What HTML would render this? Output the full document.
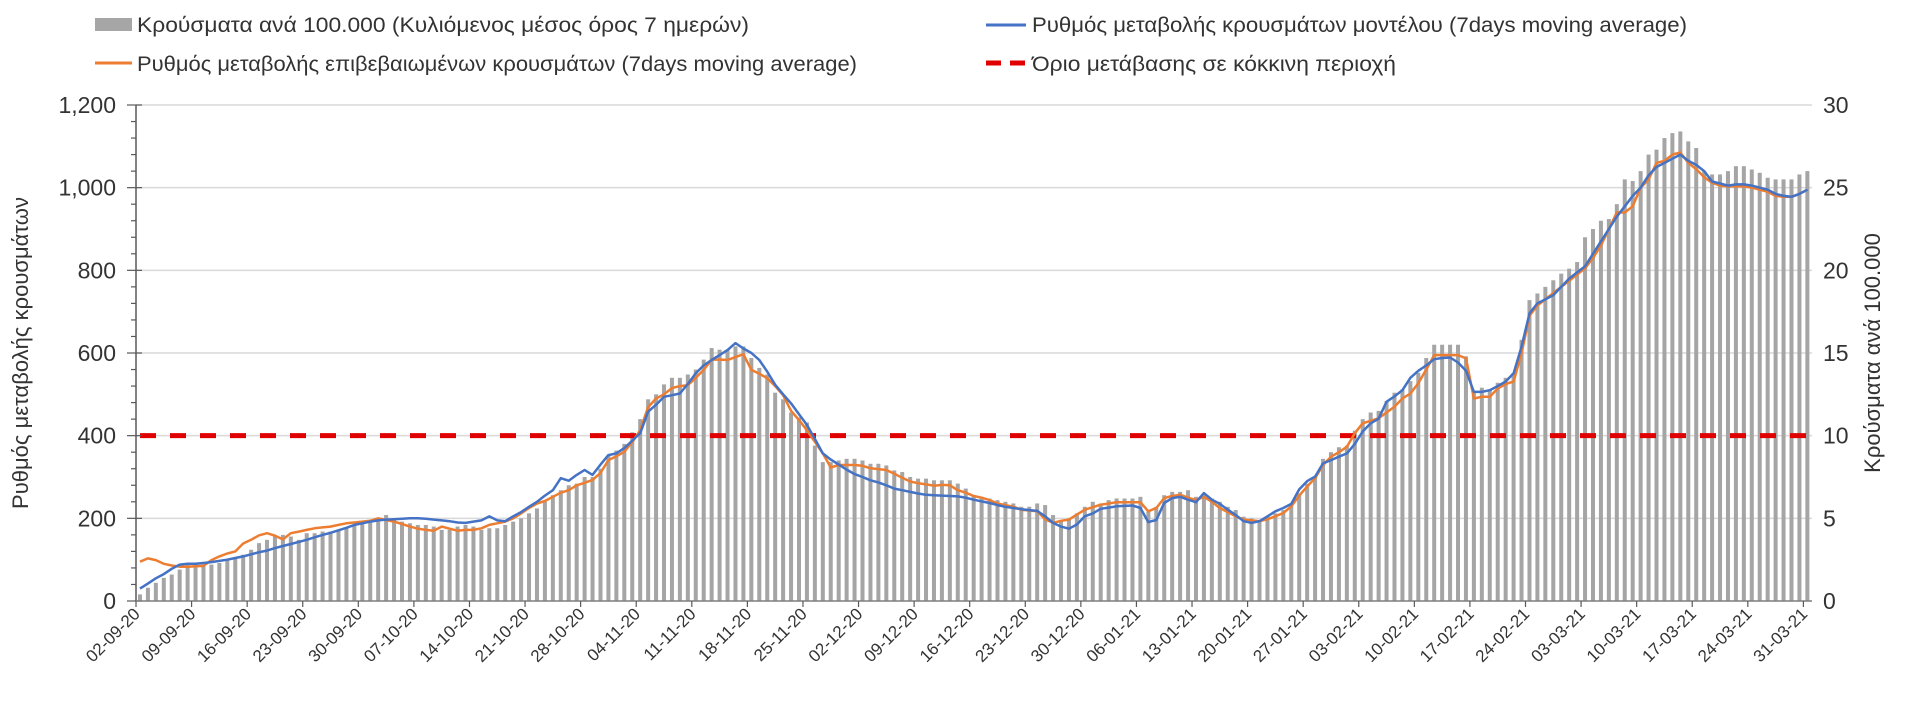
<!DOCTYPE html>
<html><head><meta charset="utf-8">
<style>
html,body{margin:0;padding:0;background:#fff;}
svg{display:block;font-family:"Liberation Sans","DejaVu Sans",sans-serif;}
</style></head>
<body>
<svg id="chart" width="1920" height="711" viewBox="0 0 1920 711" xmlns="http://www.w3.org/2000/svg">
  <rect x="0" y="0" width="1920" height="711" fill="#fff"/>
  <g id="grid"></g>
  <g id="bars"></g>
  <g id="lines"></g>
  <g id="axes"></g>
  <g id="legend">
    <g>
      <rect x="95" y="18" width="37" height="13" fill="#a6a6a6"/>
      <text x="137" y="32" font-size="21" fill="#333" textLength="612" lengthAdjust="spacingAndGlyphs">Κρούσματα ανά 100.000 (Κυλιόμενος μέσος όρος 7 ημερών)</text>
    </g>
    <g>
      <line x1="95" y1="63" x2="132" y2="63" stroke="#ed7d31" stroke-width="3"/>
      <text x="137" y="71" font-size="21" fill="#333" textLength="720" lengthAdjust="spacingAndGlyphs">Ρυθμός μεταβολής επιβεβαιωμένων κρουσμάτων (7days moving average)</text>
    </g>
    <g>
      <line x1="986" y1="25" x2="1026" y2="25" stroke="#4472c4" stroke-width="3"/>
      <text x="1032" y="32" font-size="21" fill="#333" textLength="655" lengthAdjust="spacingAndGlyphs">Ρυθμός μεταβολής κρουσμάτων μοντέλου (7days moving average)</text>
    </g>
    <g>
      <line x1="986" y1="63" x2="1028" y2="63" stroke="#e00000" stroke-width="5" stroke-dasharray="15,9"/>
      <text x="1032" y="71" font-size="21" fill="#333" textLength="364" lengthAdjust="spacingAndGlyphs">Όριο μετάβασης σε κόκκινη περιοχή</text>
    </g>
  </g>
  <text x="0" y="0" transform="translate(28,353) rotate(-90)" text-anchor="middle" font-size="22" fill="#333">Ρυθμός μεταβολής κρουσμάτων</text>
  <text x="0" y="0" transform="translate(1880,353) rotate(-90)" text-anchor="middle" font-size="22" fill="#333">Κρούσματα ανά 100.000</text>
</svg>
<script>
// ---- data ----
const startDate = [2020, 8, 2];
const leftTicks = [0, 200, 400, 600, 800, 1000, 1200];
const leftTickLabels = ["0", "200", "400", "600", "800", "1,000", "1,200"];
const rightTicks = [0, 5, 10, 15, 20, 25, 30];
const threshold = [400];
const casesPer100k = [
0.4,0.8,1.1,1.4,1.6,1.9,2.2, 2.3,2.2,2.2,2.3,2.5,2.6,2.8,
3.1,3.5,3.7,4.0,4.0,3.9,3.7, 4.1,4.1,4.2,4.2,4.3,4.4,4.6,
4.7,4.9,5.0,5.2,4.9,4.8,4.7, 4.6,4.6,4.5,4.3,4.3,4.5,4.6,
4.5,4.3,4.4,4.4,4.6,4.8,5.0, 5.3,5.6,
6.0,6.4,6.7,7.0,7.1,7.5,7.5,8.0,8.8,9.1,9.5,10.2,
11.0,12.2,12.5,13.1,13.5,13.5,13.7,14.0,14.6,
15.3,15.2,15.2,15.4,15.4,14.7,14.1,13.7,12.6,
12.2,11.4,11.1,10.8,9.4,8.4,8.4,8.5,8.6,
8.6,8.5,8.3,8.3,8.2,7.9,7.8,7.5,7.4,7.4,
7.3,7.3,7.3,7.1,6.8,6.4,6.3,6.2,6.1,6.0,5.9,
5.7,5.7,5.9,5.8,5.2,4.8,5.0,5.3,5.7,
6.0,5.9,6.1,6.2,6.2,6.2,6.3,5.4,5.7,6.4,
6.6,6.6,6.7,6.3,6.4,6.2,6.0,5.7,5.5,5.1,
5.0,4.9,5.1,5.3,5.5,5.8,6.5,7.1,7.5,8.6,
9.0,9.3,9.4,10.3,11.0,11.4,11.5,12.1,12.6,12.8,
13.3,13.8,14.7,15.5,15.5,15.5,15.5,14.8,
12.7,12.9,12.8,13.2,13.5,13.8,15.8,18.2,
18.6,19.0,19.4,19.8,20.1,20.5,22.0,22.5,23.0,23.1,
24.0,25.5,25.4,26.0,27.0,27.3,28.0,28.3,28.4,
27.8,27.4,26.0,25.8,25.8,26.0,26.3,26.3,26.1,25.9,
25.6,25.5,25.5,25.5,25.8,26.0
];
const modelRate = [
30,42,55,65,78,88,90, 90,92,94,97,100,104,108,
113,118,122,128,133,138,143, 148,154,160,165,171,177,184,
188,192,195,197,198,199,200, 200,199,197,195,193,190,189,
192,195,205,195,193,205,215, 228,240,255,268,297,291,305,
317,305,330,353,357,370,388, 406,458,475,494,498,502,525,
551,570,583,595,607,624,611, 600,583,555,523,500,478,452,
426,392,357,342,330,318,307, 300,292,287,280,272,268,264,
260,257,256,255,254,253,250, 245,241,237,232,228,225,222,
220,218,205,189,180,175,185, 205,212,223,226,229,230,231,
225,191,196,237,249,252,245, 239,261,245,235,221,208,193,
189,193,205,217,225,235,270, 290,301,333,341,349,357,380,
410,430,441,482,495,510,540, 557,570,585,588,589,577,557,
506,506,510,520,531,551,615, 696,720,730,740,760,780,795,
810,840,870,900,930,955,980, 1000,1030,1050,1060,1070,1080,1065,
1055,1040,1015,1010,1005,1008,1008, 1005,1000,995,985,980,978,985,995
];
const confirmedRate = [
95,103,99,90,86,83,83, 84,85,99,108,115,120,139,
148,159,164,158,149,164,168, 172,176,178,180,184,188,190,
192,194,200,196,192,186,180, 175,172,170,180,175,170,172,
172,176,184,188,192,200,212, 225,236,242,252,262,268,280,
286,293,310,341,350,361,385, 413,469,490,500,515,520,522,
540,559,584,584,583,590,597, 559,550,539,520,498,460,438,
413,385,357,323,329,329,329, 327,321,319,317,308,298,289,
285,282,279,281,280,268,262, 254,250,244,236,232,228,221,
219,217,198,189,194,197,209, 221,227,233,236,239,239,239,
239,217,225,249,254,257,250, 244,252,240,225,215,205,197,
195,193,198,205,213,229,255, 277,297,329,349,360,373,406,
430,436,442,456,470,490,502, 527,560,595,595,595,595,587,
490,494,494,514,525,531,599, 690,715,730,745,760,775,790,
805,830,860,900,940,940,955, 1000,1020,1060,1065,1080,1085,1060,
1045,1025,1012,1005,1003,1003,1003, 1000,995,990,980,978,978,985,995
];

// ---- scales ----
const X0 = 136, DAY = 7.94, YB = 601, YT = 105, XR = 1812;
const nDays = casesPer100k.length;
function xTick(i){ return X0 + i*DAY; }
function xDay(i){ return X0 + (i+0.5)*DAY; }
function yL(v){ return YB - v/1200*(YB-YT); }
function yR(v){ return YB - v/30*(YB-YT); }
const NS = "http://www.w3.org/2000/svg";
function mk(tag, attrs, parent){
  const e = document.createElementNS(NS, tag);
  for (const k in attrs) e.setAttribute(k, attrs[k]);
  parent.appendChild(e);
  return e;
}
const grid = document.getElementById('grid');
const barsG = document.getElementById('bars');
const linesG = document.getElementById('lines');
const axes = document.getElementById('axes');

leftTicks.forEach(function(v){
  if (v === 0) return;
  const g = mk('line', {x1:X0, x2:XR, y1:yL(v), y2:yL(v), stroke:'#d9d9d9', 'stroke-width':1.5}, grid);
  
  
});

casesPer100k.forEach(function(v, i){
  const r = mk('rect', {x:xDay(i)-2, y:yR(v), width:4, height:YB-yR(v), fill:'#a5a5a5'}, barsG);
  
  
});

const th = mk('line', {x1:X0+4, x2:XR-4, y1:yL(threshold[0]), y2:yL(threshold[0]), stroke:'#e00000', 'stroke-width':5, 'stroke-dasharray':'16,14'}, linesG);



function pathOf(arr){
  return arr.map(function(v,i){ return (i?'L':'M') + xDay(i).toFixed(1) + ',' + yL(v).toFixed(1); }).join('');
}
const pO = mk('path', {d:pathOf(confirmedRate), fill:'none', stroke:'#ed7d31', 'stroke-width':2.5, 'stroke-linejoin':'round'}, linesG);


const pB = mk('path', {d:pathOf(modelRate), fill:'none', stroke:'#4472c4', 'stroke-width':2.5, 'stroke-linejoin':'round'}, linesG);



const la = mk('line', {x1:X0, x2:X0, y1:YT, y2:YB, stroke:'#595959', 'stroke-width':1.5}, axes);


for (let v = 0; v <= 1200; v += 40){
  const major = v % 200 === 0;
  const t = mk('line', {x1:major?X0-9:X0-5, x2:X0+(major?6:0), y1:yL(v), y2:yL(v), stroke:'#595959', 'stroke-width':1.2}, axes);
  
  
}
leftTicks.forEach(function(v, k){
  const t = mk('text', {x:116, y:yL(v)+8, 'text-anchor':'end', 'font-size':23, fill:'#333'}, axes);
  t.textContent = leftTickLabels[k];
  
  
});
rightTicks.forEach(function(v){
  const t = mk('text', {x:1823, y:yR(v)+8, 'text-anchor':'start', 'font-size':23, fill:'#333'}, axes);
  t.textContent = String(v);
  
  
});

const xa = mk('line', {x1:X0, x2:XR, y1:YB, y2:YB, stroke:'#7f7f7f', 'stroke-width':1.5}, axes);


function fmt(i){
  const d = new Date(Date.UTC(startDate[0], startDate[1], startDate[2] + i));
  const dd = String(d.getUTCDate()).padStart(2,'0');
  const mm = String(d.getUTCMonth()+1).padStart(2,'0');
  const yy = String(d.getUTCFullYear()).slice(2);
  return dd + '-' + mm + '-' + yy;
}
for (let i = 0; i < nDays; i += 7){
  const x = xTick(i);
  const t = mk('line', {x1:x, x2:x, y1:YB, y2:YB+6, stroke:'#595959', 'stroke-width':1.2}, axes);
  
  
  const lb = mk('text', {x:0, y:0, transform:'translate(' + (x+5) + ',' + (YB+14) + ') rotate(-45)', 'text-anchor':'end', 'font-size':17, fill:'#333'}, axes);
  lb.textContent = fmt(i);
  
  
}
</script>
</body></html>
